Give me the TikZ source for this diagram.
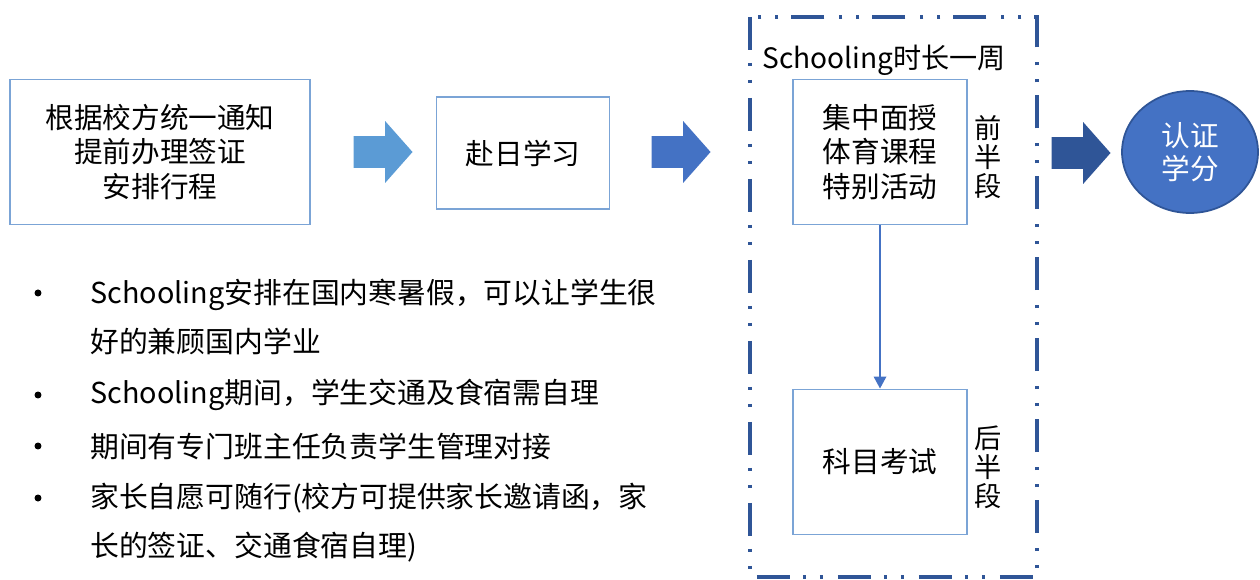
\documentclass[tikz,border=0pt]{standalone}
\usepackage{fontspec}
\setmainfont{Noto Sans CJK SC}
\usetikzlibrary{calc, positioning}
\usetikzlibrary{arrows.meta}
\usetikzlibrary{shapes.geometric, shapes.arrows}
\definecolor{boxline}{HTML}{7BA4D6}
\definecolor{lightblue}{HTML}{5B9BD5}
\definecolor{midblue}{HTML}{4472C4}
\definecolor{darkblue}{HTML}{2F5597}
\def\lw{1.1pt}
\def\shaft{\rule{0pt}{0.62cm}}
\tikzset{
    stagebox/.style = {
        draw=boxline, line width=\lw, align=center, inner sep=0pt,
        font=\fontsize{16.3}{19.5}\selectfont
    },
    bigarrow/.style = {
        single arrow, draw=none, fill=#1, minimum height=1.18cm,
        single arrow head extend=0.3cm, single arrow tip angle=97, inner sep=0pt
    },
    frame/.style = {
        draw=darkblue, line width=2.3pt,
        dash pattern=on 0.66cm off 0.26cm on 0.06cm off 0.28cm on 0.06cm off 0.3cm
    },
    side/.style = {
        align=center, font=\fontsize{15.5}{16.6}\selectfont
    },
    dot/.style = {
        circle, fill=black, inner sep=0pt, minimum size=0.14cm
    },
    item/.style = {
        anchor=west, align=left, inner sep=0pt, font=\fontsize{16.4}{28}\selectfont
    }
}

\begin{document}
\begin{tikzpicture}[x=0.02cm, y=-0.02cm]
    \useasboundingbox (0,0) rectangle (1260,580);
    \node [stagebox, minimum width=6cm, minimum height=2.9cm] (notice) at (160,152)
        {根据校方统一通知\\提前办理签证\\安排行程};
    \node [bigarrow=lightblue] (a1) at (376,152) {\shaft};
    \node [stagebox, minimum width=3.46cm, minimum height=2.24cm] (japan) at (523,153) {赴日学习};
    \node [bigarrow=midblue] (a2) at (674,152) {\shaft};
    \draw [frame] (750,17) rectangle (1037,577);
    \node [anchor=west, inner sep=0pt, font=\fontsize{16}{19}\selectfont] (week) at (762,60) {Schooling时长一周};
    \node [stagebox, minimum width=3.48cm, minimum height=2.9cm] (lessons) at (880,152)
        {集中面授\\体育课程\\特别活动};
    \node [side] (first) at (988,157) {前\\半\\段};
    \node [stagebox, minimum width=3.48cm, minimum height=2.9cm] (exam) at (880,462) {科目考试};
    \node [side] (second) at (988,467) {后\\半\\段};
    \draw [midblue, line width=1pt, -{Triangle[width=0.25cm, length=0.24cm]}] (lessons.south) -- (exam.north);
    \node [bigarrow=darkblue] (a3) at (1074,153) {\shaft};
    \node [ellipse, fill=midblue, draw=darkblue, line width=1pt, minimum width=2.72cm, minimum height=2.44cm,
        align=center, text=white, font=\fontsize{16.3}{19}\selectfont] (credit) at (1190,152) {认证\\学分};
    \begin{scope}
        \node [dot] (d1) at (38,293) {};
        \node [item] (i1) at (90,317) {Schooling安排在国内寒暑假，可以让学生很\\好的兼顾国内学业};
        \node [dot] (d2) at (38,395) {};
        \node [item] (i2) at (90,395) {Schooling期间，学生交通及食宿需自理};
        \node [dot] (d3) at (38,446) {};
        \node [item] (i3) at (90,446) {期间有专门班主任负责学生管理对接};
        \node [dot] (d4) at (38,498) {};
        \node [item] (i4) at (90,523) {家长自愿可随行(校方可提供家长邀请函，家\\长的签证、交通食宿自理)};
    \end{scope}
\end{tikzpicture}
\end{document}
